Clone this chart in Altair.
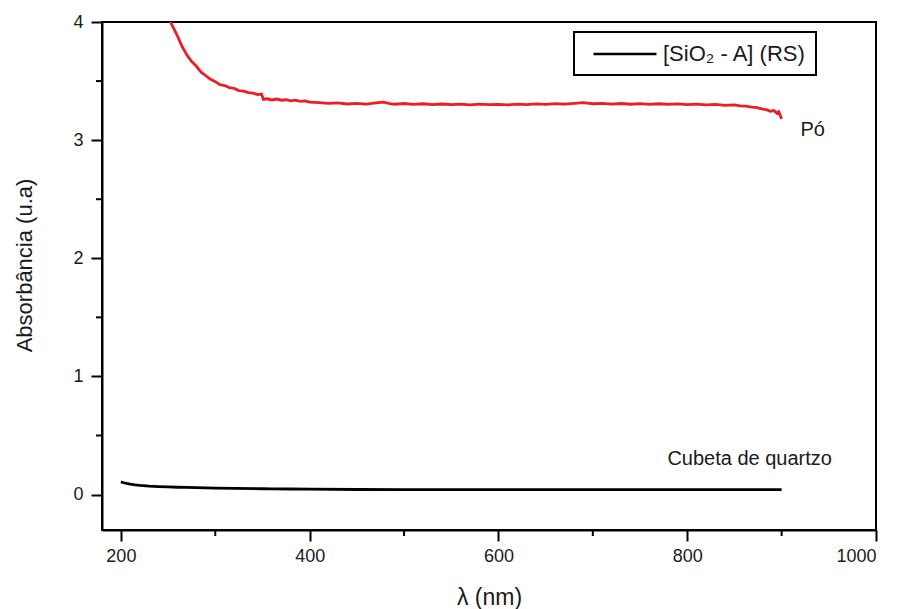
import altair as alt
import pandas as pd

# ---- data ----
series_names = ["[SiO₂ - A] (RS)", "Pó"]
series_colors = ["#000000", "#ee1c25"]

quartz_nm = [200, 203, 206, 210, 215, 220, 230, 240, 250, 260, 270, 280, 300, 320,
             350, 360, 380, 400, 450, 500, 550, 600, 650, 700, 750, 800, 850, 900]
quartz_abs = [0.107, 0.1, 0.094, 0.088, 0.082, 0.078, 0.072, 0.068, 0.065, 0.062, 0.06,
              0.058, 0.055, 0.052, 0.049, 0.048, 0.047, 0.046, 0.043, 0.042, 0.042,
              0.042, 0.042, 0.042, 0.042, 0.042, 0.042, 0.042]

po_nm = [250, 255, 260, 265, 270, 275, 280, 285, 290, 295, 300, 305, 310, 315, 320,
         325, 330, 335, 340, 345, 349, 351, 355, 360, 365, 370, 375, 380, 385, 390,
         395, 400, 410, 420, 430, 440, 450, 460, 470, 478, 485, 490, 500, 510, 520,
         530, 540, 550, 560, 570, 580, 590, 600, 610, 620, 630, 640, 650, 660, 670,
         680, 690, 700, 710, 720, 730, 740, 750, 760, 770, 780, 790, 800, 810, 820,
         830, 840, 850, 856, 862, 868, 874, 880, 884, 888, 892, 895, 897, 899, 900]
po_abs = [4.04, 3.96, 3.88, 3.79, 3.72, 3.665, 3.625, 3.575, 3.545, 3.515, 3.495, 3.47,
          3.462, 3.445, 3.438, 3.42, 3.415, 3.402, 3.398, 3.385, 3.39, 3.345, 3.35, 3.34,
          3.348, 3.338, 3.342, 3.332, 3.338, 3.328, 3.333, 3.322, 3.318, 3.312, 3.316,
          3.306, 3.312, 3.305, 3.315, 3.322, 3.31, 3.304, 3.31, 3.302, 3.308, 3.3, 3.306,
          3.301, 3.305, 3.299, 3.304, 3.3, 3.303, 3.298, 3.305, 3.301, 3.307, 3.302,
          3.309, 3.305, 3.312, 3.318, 3.308, 3.312, 3.305, 3.31, 3.304, 3.309, 3.303,
          3.308, 3.302, 3.307, 3.301, 3.305, 3.298, 3.302, 3.295, 3.298, 3.29, 3.288,
          3.28, 3.276, 3.262, 3.258, 3.245, 3.25, 3.228, 3.24, 3.2, 3.18]

annot_text = ["Pó", "Cubeta de quartzo"]
annot_x = [920, 779]
annot_y = [3.085, 0.305]

x_major = [200, 400, 600, 800, 1000]
x_minor = [300, 500, 700, 900]
y_major = [0, 1, 2, 3, 4]
y_minor = [0.5, 1.5, 2.5, 3.5]

# ---- tables ----
df = pd.concat([
    pd.DataFrame({"nm": quartz_nm, "abs": quartz_abs, "serie": series_names[0]}),
    pd.DataFrame({"nm": po_nm, "abs": po_abs, "serie": series_names[1]}),
])
ann = pd.DataFrame({"t": annot_text, "x": annot_x, "y": annot_y})
xmin_df = pd.DataFrame({"v": x_minor})
ymin_df = pd.DataFrame({"v": y_minor})

FONT = "Liberation Sans"
INK = "#1a1a1a"

xscale = alt.Scale(domain=[180, 1000], nice=False, zero=False)
yscale = alt.Scale(domain=[-0.3, 4], nice=False, zero=False)

x_axis = alt.Axis(
    values=x_major, title="λ (nm)", grid=False, format="d",
    tickSize=11, tickWidth=2, tickColor="black", domainColor="black", domainWidth=2,
    labelFont=FONT, labelFontSize=18, labelColor=INK, labelPadding=6,
    titleFont=FONT, titleFontSize=23, titleFontWeight="normal", titleColor=INK,
    titlePadding=21,
)
y_axis = alt.Axis(
    values=y_major, title="Absorbância (u.a)", grid=False, format="d",
    tickSize=11, tickWidth=2, tickColor="black", domainColor="black", domainWidth=2,
    labelFont=FONT, labelFontSize=18, labelColor=INK, labelPadding=8,
    titleFont=FONT, titleFontSize=22, titleFontWeight="normal", titleColor=INK,
    titlePadding=36, titleY=243,
)

lines = alt.Chart(df).mark_line(strokeWidth=2.8, clip=True).encode(
    x=alt.X("nm:Q", scale=xscale, axis=x_axis),
    y=alt.Y("abs:Q", scale=yscale, axis=y_axis),
    color=alt.Color(
        "serie:N",
        scale=alt.Scale(domain=series_names, range=series_colors),
        legend=alt.Legend(
            values=[series_names[0]], title=None, orient="none",
            legendX=472, legendY=10, padding=10,
            symbolType="M-3,0H3", symbolSize=441, symbolStrokeWidth=2.5,
            symbolOffset=29, labelOffset=26,
            labelFont=FONT, labelFontSize=22, labelColor=INK,
            strokeColor="black", labelLimit=400,
        ),
    ),
    detail="serie:N",
)

x_minor_ticks = alt.Chart(xmin_df).mark_rule(color="black", strokeWidth=2).encode(
    x=alt.X("v:Q", scale=xscale),
    y=alt.value(508), y2=alt.value(514),
)
y_minor_ticks = alt.Chart(ymin_df).mark_rule(color="black", strokeWidth=2).encode(
    y=alt.Y("v:Q", scale=yscale),
    x=alt.value(-6), x2=alt.value(0),
)

labels = alt.Chart(ann).mark_text(
    align="left", baseline="middle", font=FONT, fontSize=20, color=INK
).encode(
    x=alt.X("x:Q", scale=xscale),
    y=alt.Y("y:Q", scale=yscale),
    text="t:N",
)

chart = (
    alt.layer(lines, x_minor_ticks, y_minor_ticks, labels)
    .properties(
        width=774, height=508,
        padding={"left": 102, "top": 22, "right": 25, "bottom": 79},
        autosize=alt.AutoSizeParams(type="none"),
        background="white",
    )
    .configure_view(stroke="black", strokeWidth=2)
    .configure_legend(strokeWidth=2)
)

chart.save("out.html", embed_options={"renderer": "svg", "actions": False})
